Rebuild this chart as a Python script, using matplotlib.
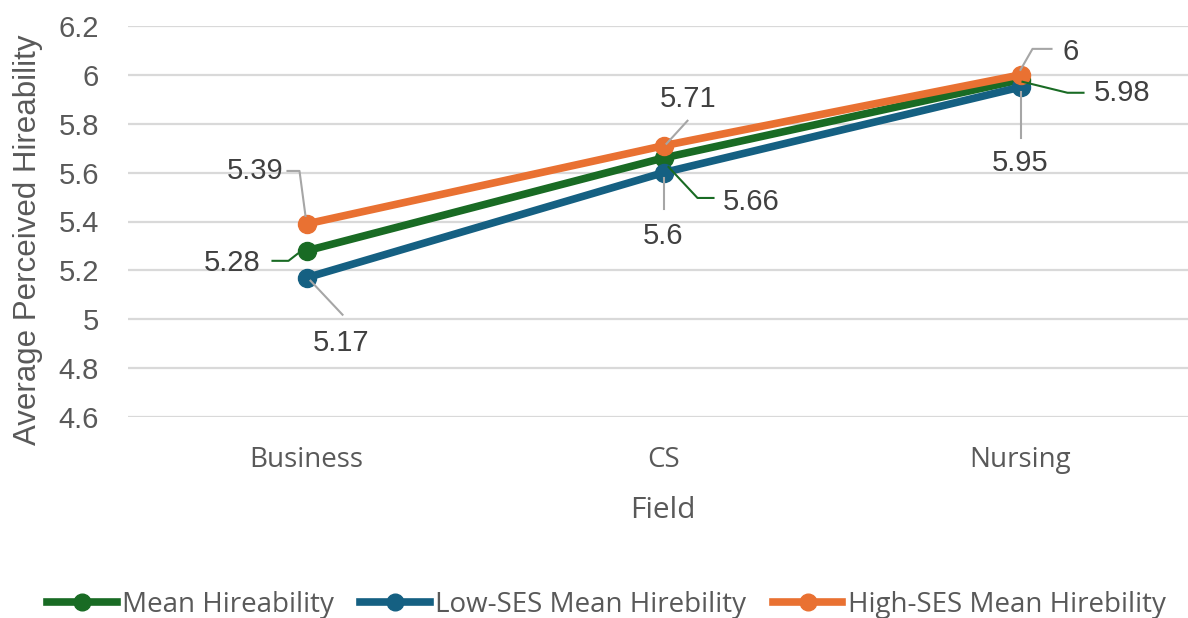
import matplotlib
matplotlib.use("Agg")
import matplotlib.pyplot as plt
from matplotlib.lines import Line2D
import matplotlib.transforms as mtransforms

fields = ["Business", "CS", "Nursing"]
series_names = ["Mean Hireability", "Low-SES Mean Hirebility", "High-SES Mean Hirebility"]
mean_vals = [5.28, 5.66, 5.98]
low_vals = [5.17, 5.60, 5.95]
high_vals = [5.39, 5.71, 6.00]
yticks = [4.6, 4.8, 5.0, 5.2, 5.4, 5.6, 5.8, 6.0, 6.2]
ytick_labels = ["4.6", "4.8", "5", "5.2", "5.4", "5.6", "5.8", "6", "6.2"]

colors = ["#196B24", "#156082", "#E97132"]
series = [mean_vals, low_vals, high_vals]

W, H = 1188, 618
fig = plt.figure(figsize=(W / 100, H / 100), dpi=100)
fig.patch.set_facecolor("white")
left, right, top, bottom = 128, 1199, 26, 417
ax = fig.add_axes([left / W, 1 - bottom / H, (right - left) / W, (bottom - top) / H])
ax.set_xlim(-0.5, 2.5)
ax.set_ylim(4.6, 6.2)
for s in ax.spines.values():
    s.set_visible(False)
ax.set_yticks(yticks)
ax.set_yticklabels(ytick_labels, fontsize=21, color="#595959", family="Liberation Sans")
ax.set_xticks(range(len(fields)))
ax.set_xticklabels(fields, fontsize=20, color="#595959", family="Open Sans")
ax.tick_params(axis="y", length=0, pad=21)
ax.tick_params(axis="x", length=0, pad=21)
ax.grid(axis="y", color="#d9d9d9", lw=1.6)
ax.set_axisbelow(True)
ax.set_ylabel("Average Perceived Hireability", fontsize=22.5, color="#595959",
              family="Liberation Sans")
ax.yaxis.label.set_va("center")
ax.yaxis.set_label_coords((28 - left) / (right - left), (bottom - 240) / (bottom - top))
ax.set_xlabel("Field", fontsize=21.5, color="#595959", family="Open Sans")
ax.xaxis.label.set_va("center")
ax.xaxis.set_label_coords(0.5 + (663 - (left + right) / 2) / (right - left),
                          (bottom - 510) / (bottom - top))

x = list(range(len(fields)))
for i, (vals, c, name) in enumerate(zip(series, colors, series_names)):
    ax.plot(x, vals, color=c, lw=5.5, marker="o", ms=13, label=name, zorder=3 + i,
            solid_capstyle="round")

# data labels: (series index, point index, label offset px (dx, dy down), leader vertices px)
labels = [
    (2, 0, (-51, -53), [(-19, -53), (-7, -53), (-1, -8)]),
    (0, 0, (-74, 12), [(-34, 10), (-18, 10), (-9, 3)]),
    (1, 0, (35, 65), [(4, 3), (36, 37)]),
    (2, 1, (25, -47), [(24, -25), (3, -2)]),
    (0, 1, (88, 44), [(5, 9), (34, 40), (50, 40)]),
    (1, 1, (0, 63), [(0, 5), (0, 36)]),
    (2, 2, (50, -23), [(0, -5), (12, -26), (31, -26)]),
    (0, 2, (102, 13), [(2, 2), (47, 13), (63, 13)]),
    (1, 2, (0, 76), [(0, 5), (0, 51)]),
]
ident = mtransforms.IdentityTransform()
for si, pi, (dx, dy), verts in labels:
    v = series[si][pi]
    txt = f"{v:g}"
    ax.annotate(txt, xy=(pi, v), xytext=(dx, -dy), textcoords="offset pixels",
                ha="center", va="center", fontsize=21, color="#404040",
                family="Liberation Sans", zorder=10)
    px, py = ax.transData.transform((pi, v))
    xs = [px + a for a, b in verts]
    ys = [py - b for a, b in verts]
    lc = colors[0] if si == 0 else "#a6a6a6"
    fig.add_artist(Line2D(xs, ys, transform=ident, color=lc, lw=1.5, zorder=9))

handles = [Line2D([0], [0], color=c, lw=5.5, marker="o", ms=12) for c in colors]
leg = fig.legend(handles, series_names, loc="center", bbox_to_anchor=(0.5105, 1 - 605 / H),
                 ncol=3, frameon=False, handlelength=2.5, handletextpad=0.2,
                 columnspacing=0.95, prop={"family": "Open Sans", "size": 20})
for t in leg.get_texts():
    t.set_color("#595959")

fig.savefig("out.png", dpi=100, facecolor="white")
